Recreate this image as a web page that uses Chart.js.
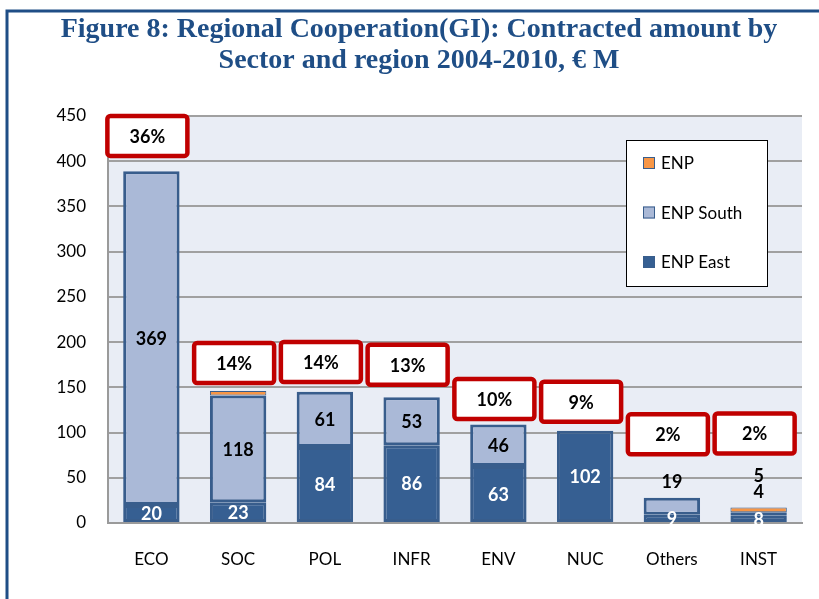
<!DOCTYPE html>
<html>
<head>
<meta charset="utf-8">
<script src="https://cdn.jsdelivr.net/npm/chart.js@4/dist/chart.umd.min.js"></script>
<style>
  html, body { margin: 0; padding: 0; background: #fff; overflow: hidden; }
  #wrap { position: relative; width: 819px; height: 599px; }
</style>
</head>
<body>
<div id="wrap"><canvas id="chart" width="819" height="599"></canvas></div>
<script>
// values (EUR million)
const categories = ['ECO', 'SOC', 'POL', 'INFR', 'ENV', 'NUC', 'Others', 'INST'];
const enpEast = [20, 23, 84, 86, 63, 102, 9, 8];
const enpSouth = [369, 118, 61, 53, 46, null, 19, 4];
const enp = [null, 5, null, null, null, null, null, 5];
const shares = ['36%', '14%', '14%', '13%', '10%', '9%', '2%', '2%'];
const yTicks = [0, 50, 100, 150, 200, 250, 300, 350, 400, 450];
const titleLines = ['Figure 8: Regional Cooperation(GI): Contracted amount by', 'Sector and region 2004-2010, € M'];

// where the red share boxes sit, in axis units
const calloutAt = [428, 177, 178, 175, 137, 134, 98, 99];
// labels left off in the original
const hiddenLabels = { 'ENP': ['SOC'] };

const totals = categories.map((c, i) => (enpEast[i] || 0) + (enpSouth[i] || 0) + (enp[i] || 0));

const FONT = 'Lato, "Open Sans", sans-serif';
const BORDER = '#385d8c';

// white page, blue frame, title and plot background
const frame = {
  id: 'frame',
  beforeDraw(chart) {
    const { ctx, chartArea: a } = chart;
    ctx.save();
    ctx.fillStyle = '#fff';
    ctx.fillRect(0, 0, chart.width, chart.height);
    ctx.fillStyle = '#e9edf5';
    ctx.fillRect(a.left, a.top, a.right - a.left, a.bottom - a.top);
    ctx.strokeStyle = '#1f4e86';
    ctx.lineWidth = 3;
    ctx.beginPath();
    ctx.moveTo(7, chart.height + 5);
    ctx.lineTo(7, 11);
    ctx.lineTo(chart.width + 5, 11);
    ctx.stroke();
    ctx.fillStyle = '#1f4e86';
    ctx.font = 'bold 28px "Liberation Serif", serif';
    ctx.textAlign = 'center';
    ctx.textBaseline = 'alphabetic';
    titleLines.forEach((t, k) => ctx.fillText(t, 419, 37 + k * 31));
    ctx.restore();
  }
};

const valueLabels = {
  id: 'valueLabels',
  afterDatasetsDraw(chart) {
    const ctx = chart.ctx;
    const y = chart.scales.y;
    const above = categories.map(() => 0);
    ctx.save();
    ctx.font = 'bold 18px ' + FONT;
    ctx.textAlign = 'center';
    ctx.textBaseline = 'middle';
    chart.data.datasets.forEach((ds, di) => {
      const meta = chart.getDatasetMeta(di);
      meta.data.forEach((bar, i) => {
        const v = ds.data[i];
        if (!v) return;
        if ((hiddenLabels[ds.label] || []).includes(categories[i])) return;
        const h = bar.base - bar.y;
        if (di === 0 || h >= 20) {
          ctx.fillStyle = di === 0 ? '#fff' : '#000';
          ctx.fillText(v, bar.x, (bar.y + bar.base) / 2 + 1);
        } else {
          const top = y.getPixelForValue(totals[i]);
          above[i] += above[i] ? 16 : 15;
          ctx.fillStyle = '#000';
          ctx.fillText(v, bar.x, top - above[i]);
        }
      });
    });
    ctx.restore();
  }
};

const callouts = {
  id: 'callouts',
  afterDraw(chart) {
    const ctx = chart.ctx;
    const y = chart.scales.y;
    const meta = chart.getDatasetMeta(0);
    ctx.save();
    ctx.font = 'bold 18px ' + FONT;
    ctx.textAlign = 'center';
    ctx.textBaseline = 'middle';
    shares.forEach((s, i) => {
      const cx = meta.data[i].x - 4;
      const cy = y.getPixelForValue(calloutAt[i]);
      const w = 80, h = 40;
      ctx.beginPath();
      ctx.roundRect(cx - w / 2, cy - h / 2, w, h, 3);
      ctx.fillStyle = '#fff';
      ctx.fill();
      ctx.lineWidth = 4.5;
      ctx.strokeStyle = '#c00000';
      ctx.stroke();
      ctx.fillStyle = '#000';
      ctx.fillText(s, cx, cy + 1);
    });
    ctx.restore();
  }
};

const boxLegend = {
  id: 'boxLegend',
  afterDraw(chart) {
    const { ctx, chartArea: a } = chart;
    const x = a.right - 176, top = a.top + 24;
    ctx.save();
    ctx.fillStyle = '#fff';
    ctx.fillRect(x, top, 141, 146);
    ctx.strokeStyle = '#000';
    ctx.lineWidth = 1;
    ctx.strokeRect(x + 0.5, top + 0.5, 141, 146);
    ctx.font = '17px ' + FONT;
    ctx.textBaseline = 'middle';
    const items = chart.data.datasets.slice().reverse();
    items.forEach((ds, k) => {
      const cy = top + 23 + k * 49.5;
      ctx.fillStyle = ds.backgroundColor;
      ctx.fillRect(x + 17, cy - 6, 12, 12);
      ctx.strokeStyle = BORDER;
      ctx.strokeRect(x + 17.5, cy - 5.5, 11, 11);
      ctx.fillStyle = '#000';
      ctx.fillText(ds.label, x + 35, cy + 1);
    });
    ctx.restore();
  }
};

new Chart(document.getElementById('chart').getContext('2d'), {
  type: 'bar',
  data: {
    labels: categories,
    datasets: [
      { label: 'ENP East', data: enpEast, backgroundColor: '#365f92' },
      { label: 'ENP South', data: enpSouth, backgroundColor: '#aab9d7' },
      { label: 'ENP', data: enp, backgroundColor: '#f79646', borderWidth: 1 }
    ]
  },
  options: {
    responsive: false,
    animation: false,
    layout: { padding: { left: 0, right: 17, top: 116, bottom: 0 } },
    datasets: {
      bar: {
        categoryPercentage: 1,
        barPercentage: 0.65,
        borderColor: BORDER,
        borderWidth: 3,
        borderSkipped: false
      }
    },
    plugins: {
      legend: { display: false },
      tooltip: { enabled: false },
      title: { display: false }
    },
    scales: {
      x: {
        stacked: true,
        grid: { display: false, drawTicks: false },
        border: { color: '#9a9a9a', width: 2 },
        ticks: { color: '#000', font: { family: FONT, size: 17 }, padding: 26 },
        afterFit(s) { s.height = 76; }
      },
      y: {
        stacked: true,
        min: 0,
        max: 450,
        afterBuildTicks(s) { s.ticks = yTicks.map(v => ({ value: v })); },
        grid: { color: '#a0a0a0', lineWidth: 2, drawTicks: false },
        border: { color: '#9a9a9a', width: 2 },
        ticks: { color: '#000', font: { family: FONT, size: 17 }, padding: 22 },
        afterFit(s) { s.width = 108; }
      }
    }
  },
  plugins: [frame, valueLabels, callouts, boxLegend]
});
</script>
</body>
</html>
